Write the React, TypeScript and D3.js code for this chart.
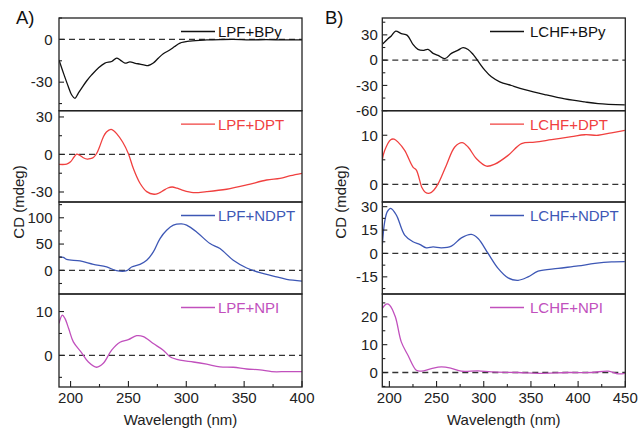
import React from "react";
import * as d3 from "d3";

type Pt = [number, number];

// ---- Data (wavelength nm, CD mdeg) ----
const lpfBpy: Pt[] = [
  [190, -14.4], [194, -24], [198, -33], [201, -39], [203.8, -41.3], [206.5, -38], [209.6, -34.2],
  [214, -29], [218.2, -24.9], [224, -20], [229.7, -16.6], [235.5, -15.5], [239.8, -13.1],
  [243, -14.5], [247, -16.6], [251.3, -15.8], [256, -16.8], [260, -17.3], [264, -18], [267.2, -18.3],
  [271.5, -16.6], [276, -13], [280.1, -10.1], [286, -7.3], [290, -5], [294.6, -2.6], [303.2, -1.2],
  [317.6, -0.4], [330, -0.1], [340.6, 0], [355, -0.3], [369.4, -0.2], [385, -0.4], [400, -0.3],
];
const lpfDpt: Pt[] = [
  [190, -7.9], [196.6, -7.7], [200, -5.9], [203, -2], [205.3, 0.2], [208.2, -0.8], [211, -2.6],
  [214.5, -3.7], [217, -3.4], [219.7, -2.4], [222.5, 0.8], [225, 6], [228.3, 14], [231, 18],
  [234.9, 20.1], [237, 19.2], [239.8, 16.7], [245, 10], [249.9, 0.8], [254.2, -11.1], [260, -23],
  [265.8, -29.7], [272.1, -31.8], [276, -31], [280.1, -28.9], [284, -26.8], [287.9, -26],
  [292, -27], [296, -28.3], [306, -30.5], [317.6, -29.7], [334.9, -27.8], [352.2, -24.4],
  [369.4, -20.4], [381, -19.1], [390, -17], [400, -15.1],
];
const lpfNdpt: Pt[] = [
  [190, 25.4], [193.7, 24.8], [196.6, 21], [208.2, 17.8], [219.7, 11.5], [231.2, 6.4],
  [239.8, -0.6], [248.5, -0.6], [252.8, 6.4], [260, 11.5], [265.8, 19.1], [271.5, 35],
  [277.3, 60.5], [283, 76.3], [288.8, 85.9], [296, 88.4], [300.3, 85.9], [308.9, 73],
  [320.5, 50.9], [329.1, 41.4], [340.6, 19.1], [352.2, 4.5], [363.7, -4.5], [375.2, -10.8],
  [386.7, -17.2], [400, -20.4],
];
const lpfNpi: Pt[] = [
  [190, 7.3], [192.9, 9.2], [195.2, 8.4], [198.5, 6], [202.4, 3.1], [209.6, 0.6], [215.4, -1.5],
  [222.5, -2.7], [228.3, -1.8], [235.5, 1.2], [242.7, 3], [249.9, 3.6], [257.1, 4.5],
  [262.9, 4.3], [271.5, 2.7], [280.1, 1.2], [286, -0.3], [294.6, -1.1], [306.1, -1.5],
  [317.6, -2], [329.1, -2.6], [340.6, -2.7], [352.2, -3.1], [363.7, -3.3], [373.8, -3.7],
  [386.7, -3.7], [400, -3.7],
];
const lchfBpy: Pt[] = [
  [192.5, 18.7], [198.5, 25.5], [202, 28.6], [206.7, 34.5], [212.6, 31.4], [219, 29.4],
  [225, 18.7], [230.3, 12.7], [235.6, 11.5], [240.9, 12.7], [246.3, 8], [251.6, 5.6],
  [258.7, 1.7], [265.7, 8], [272.8, 11.9], [278.1, 14.8], [283.4, 12.7], [288.7, 6.8],
  [294, -1.2], [301.1, -11.9], [308.1, -19.8], [317, -25.7], [329.3, -30.1], [343.5, -34.9],
  [364.7, -40.8], [385.9, -46], [407.1, -49.6], [421.2, -51.5], [449.5, -53.1],
];
const lchfDpt: Pt[] = [
  [192.5, 5.0], [195, 6.9], [201.4, 9.1], [205, 9.2], [209.2, 8.6], [216.2, 6.9], [225, 3.5],
  [228.6, 2.9], [234.6, -0.7], [238, -1.6], [242.7, -1.8], [247, -1.2], [251.6, 0.1],
  [260.4, 3.9], [269.3, 7.6], [277.1, 8.5], [283.4, 7.6], [292.3, 5.2], [302.9, 3.7],
  [311.7, 4.1], [325.8, 5.9], [340, 8.3], [354.1, 8.6], [371.8, 9.1], [393, 9.7],
  [407.1, 10.1], [421.2, 10], [435.4, 10.5], [449.5, 11],
];
const lchfNdpt: Pt[] = [
  [192.5, 5.3], [195, 20.3], [197.8, 26.8], [201.4, 28.9], [207.4, 24.6], [216.2, 11.8],
  [225, 7.5], [232.1, 5.8], [239.2, 3.6], [246.3, 4.2], [255.1, 3.6], [265.7, 4.7],
  [276.3, 10], [286.9, 12.2], [294, 9.6], [304.6, 0], [315.2, -9.6], [325.8, -15.7],
  [336.4, -17.2], [347, -15], [357.6, -11.4], [378.8, -9.6], [400, -8], [417.7, -6.4],
  [435.4, -5.4], [449.5, -5.2],
];
const lchfNpi: Pt[] = [
  [192.5, 23], [196.7, 24.6], [200.3, 24.2], [206.3, 20], [212.6, 11], [219.7, 6.2],
  [228.6, 0.8], [233.9, 0.5], [244.5, 1.4], [255.1, 2], [265.7, 1.5], [276.3, 0.5],
  [294, 0.6], [308.1, 0.2], [336.4, 0], [357.6, -0.3], [389.4, 0], [414.2, 0],
  [431.9, 0.5], [442.5, -0.5], [449.5, -0.3],
];

const leftXTicks = [200, 250, 300, 350, 400];
const leftXMinor = [225, 275, 325, 375];
const rightXTicks = [200, 250, 300, 350, 400, 450];
const rightXMinor = [225, 275, 325, 375, 425];

const leftLabels = ["LPF+BPy", "LPF+DPT", "LPF+NDPT", "LPF+NPI"];
const rightLabels = ["LCHF+BPy", "LCHF+DPT", "LCHF+NDPT", "LCHF+NPI"];
const colors = ["#111111", "#f0403f", "#3d57b5", "#c150bd"];

const leftYDomains: Pt[] = [[-50, 15], [-38, 35], [-45, 130], [-7.2, 14]];
const leftYMajor = [[-30, 0], [-30, 0, 30], [0, 50, 100], [0, 10]];
const leftYMinor = [[-45, -15, 15], [-15, 15], [-25, 25, 75, 125], [-5, 5]];
const rightYDomains: Pt[] = [[-60, 50], [-3.6, 15], [-26, 33], [-5.2, 28.2]];
const rightYMajor = [[-60, -30, 0, 30], [0, 10], [-15, 0, 15, 30], [0, 10, 20]];
const rightYMinor = [[-45, -15, 15, 45], [5], [-22.5, -7.5, 7.5, 22.5], [-5, 5, 15, 25]];

const leftSeries = [lpfBpy, lpfDpt, lpfNdpt, lpfNpi];
const rightSeries = [lchfBpy, lchfDpt, lchfNdpt, lchfNpi];

const rows: Pt[] = [[18, 110.7], [110.7, 202], [202, 294], [294, 387]];
const FONT = "'Liberation Sans', Arial, sans-serif";

type SideProps = {
  id: string;
  x0: number; x1: number; xDomain: Pt;
  xTicks: number[]; xMinor: number[];
  series: Pt[][]; labels: string[];
  yDomains: Pt[]; yMajor: number[][]; yMinor: number[][];
  labelGap: number; legendX: number; legendTextGap: number;
  letter: string; letterX: number; yTitleX: number;
};

function Side(p: SideProps) {
  const x = d3.scaleLinear().domain(p.xDomain).range([p.x0, p.x1]);
  const axisColor = "#222";
  return (
    <g>
      {p.series.map((data, i) => {
        const [top, bot] = rows[i];
        const y = d3.scaleLinear().domain(p.yDomains[i]).range([bot, top]);
        const line = d3.line<Pt>().x(d => x(d[0])).y(d => y(d[1])).curve(d3.curveCatmullRom.alpha(0.5));
        const clipId = `${p.id}-clip-${i}`;
        const legendY = top + 13.5;
        return (
          <g key={i}>
            <defs>
              <clipPath id={clipId}>
                <rect x={p.x0} y={top} width={p.x1 - p.x0} height={bot - top} />
              </clipPath>
            </defs>
            <line x1={p.x0} x2={p.x1} y1={y(0)} y2={y(0)} stroke="#333" strokeWidth={1.3} strokeDasharray="6,4" />
            <path d={line(data) || ""} fill="none" stroke={colors[i]} strokeWidth={1.3} clipPath={`url(#${clipId})`} />
            {p.yMajor[i].map(t => (
              <g key={"M" + t}>
                <line x1={p.x0} x2={p.x0 + 5} y1={y(t)} y2={y(t)} stroke={axisColor} strokeWidth={1.1} />
                <text x={p.x0 - p.labelGap} y={y(t) + 5.3} textAnchor="end" fontSize={15} fontFamily={FONT} fill="#222">
                  {t < 0 ? "-" + Math.abs(t) : String(t)}
                </text>
              </g>
            ))}
            {p.yMinor[i].map(t => (
              <line key={"m" + t} x1={p.x0} x2={p.x0 + 3} y1={y(t)} y2={y(t)} stroke={axisColor} strokeWidth={1.1} />
            ))}
            <line x1={p.legendX} x2={p.legendX + 34} y1={legendY} y2={legendY} stroke={colors[i]} strokeWidth={1.3} />
            <text x={p.legendX + 34 + p.legendTextGap} y={legendY + 5.3} fontSize={15} fontFamily={FONT} fill={colors[i]}>
              {p.labels[i]}
            </text>
            <rect x={p.x0} y={top} width={p.x1 - p.x0} height={bot - top} fill="none" stroke={axisColor} strokeWidth={1.3} />
          </g>
        );
      })}
      {p.xTicks.map(t => (
        <g key={"x" + t}>
          <line x1={x(t)} x2={x(t)} y1={387} y2={381} stroke={axisColor} strokeWidth={1.1} />
          <text x={x(t)} y={403} textAnchor="middle" fontSize={15} fontFamily={FONT} fill="#222">{t}</text>
        </g>
      ))}
      {p.xMinor.map(t => (
        <line key={"xm" + t} x1={x(t)} x2={x(t)} y1={387} y2={384} stroke={axisColor} strokeWidth={1.1} />
      ))}
      <text x={(p.x0 + p.x1) / 2} y={425} textAnchor="middle" fontSize={15} fontFamily={FONT} fill="#222">Wavelength (nm)</text>
      <text transform={`translate(${p.yTitleX},202) rotate(-90)`} textAnchor="middle" fontSize={15} fontFamily={FONT} fill="#222">CD (mdeg)</text>
      <text x={p.letterX} y={24} fontSize={18.5} fontFamily={FONT} fill="#111">{p.letter}</text>
    </g>
  );
}

export default function App() {
  return (
    <svg width={638} height={431} style={{ position: "absolute", left: 0, top: 0, background: "#fff" }}>
      <rect width={638} height={431} fill="#fff" />
      <Side
        id="L" x0={59} x1={302} xDomain={[190, 400]} xTicks={leftXTicks} xMinor={leftXMinor}
        series={leftSeries} labels={leftLabels} yDomains={leftYDomains} yMajor={leftYMajor} yMinor={leftYMinor}
        labelGap={6.5} legendX={181} legendTextGap={3} letter="A)" letterX={16} yTitleX={24}
      />
      <Side
        id="R" x0={382.3} x1={625.3} xDomain={[192.5, 450]} xTicks={rightXTicks} xMinor={rightXMinor}
        series={rightSeries} labels={rightLabels} yDomains={rightYDomains} yMajor={rightYMajor} yMinor={rightYMinor}
        labelGap={4.5} legendX={490} legendTextGap={6} letter="B)" letterX={325} yTitleX={346}
      />
    </svg>
  );
}
